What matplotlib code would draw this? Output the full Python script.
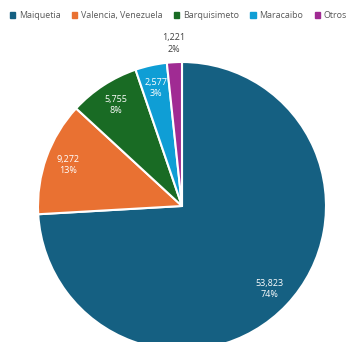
import numpy as np
import matplotlib.pyplot as plt
from matplotlib.patches import Patch

labels = ['Maiquetia', 'Valencia, Venezuela', 'Barquisimeto', 'Maracaibo', 'Otros']
values = [53823, 9272, 5755, 2577, 1221]
pcts = [74, 13, 8, 3, 2]   # as printed on the chart
colors = ['#156082', '#E97132', '#196B24', '#0F9ED5', '#A02B93']

plt.rcParams['font.family'] = ['Open Sans', 'DejaVu Sans']

W, H = 358, 342
fig = plt.figure(figsize=(W/100, H/100), dpi=100)
ax = fig.add_axes([0, 0, 1, 1])

# pie centre in pixels, radius in pixels
cx, cy, r = 182, 206, 144

wedges, _ = ax.pie(values, colors=colors, startangle=90, counterclock=False,
                   wedgeprops=dict(edgecolor='white', linewidth=1.5))
for i, w in enumerate(wedges):
    ang = np.deg2rad((w.theta1 + w.theta2)/2)
    d = 0.84 if i < len(wedges)-1 else 1.13
    col = 'white' if i < len(wedges)-1 else '#404040'
    ax.text(d*np.cos(ang), d*np.sin(ang), '{:,}\n{}%'.format(values[i], pcts[i]),
            ha='center', va='center', color=col, fontsize=6.5, linespacing=1.3)

ax.set_xlim(-cx/r, (W-cx)/r)
ax.set_ylim(-(H-cy)/r, cy/r)
ax.set_aspect('auto')
ax.axis('off')

handles = [Patch(color=c) for c in colors]
fig.legend(handles, labels, loc='upper left', bbox_to_anchor=(0.005, 0.99), ncol=5,
           frameon=False, fontsize=6.4, handlelength=0.6, handleheight=0.6,
           handletextpad=0.4, columnspacing=1.3, labelcolor='#595959')

fig.savefig('out.png', dpi=100)
